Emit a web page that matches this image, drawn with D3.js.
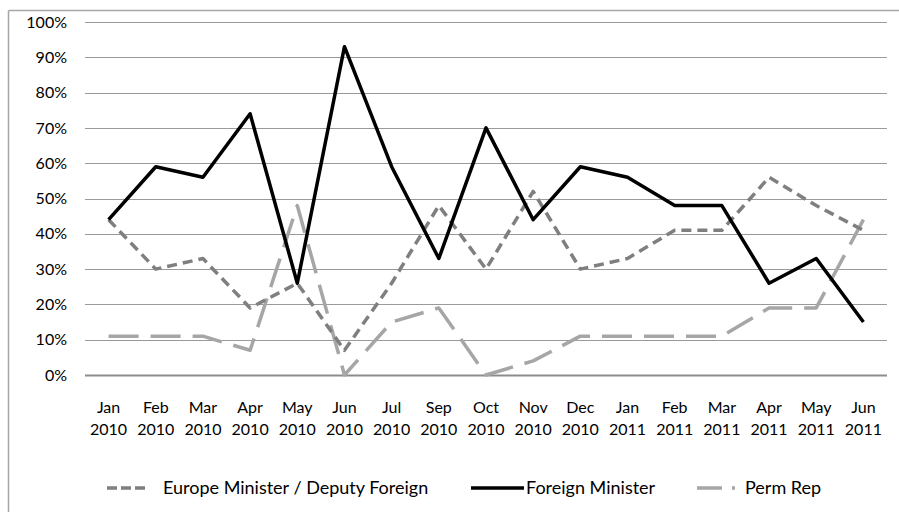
<!DOCTYPE html>
<html>
<head>
<meta charset="utf-8">
<script src="https://cdn.jsdelivr.net/npm/d3@7"></script>
<style>
  body { margin: 0; background: #fff; }
  text { font-family: Lato, "Open Sans", sans-serif; fill: #000; }
</style>
</head>
<body>
<div id="chart"></div>
<script>
// data
const months = ['Jan', 'Feb', 'Mar', 'Apr', 'May', 'Jun', 'Jul', 'Sep', 'Oct', 'Nov', 'Dec',
                'Jan', 'Feb', 'Mar', 'Apr', 'May', 'Jun'];
const years = ['2010', '2010', '2010', '2010', '2010', '2010', '2010', '2010', '2010', '2010', '2010',
               '2011', '2011', '2011', '2011', '2011', '2011'];
const europeMinister = [44, 30, 33, 19, 26, 7, 26, 48, 30, 52, 30, 33, 41, 41, 56, 48, 41];
const foreignMinister = [44, 59, 56, 74, 26, 93, 59, 33, 70, 44, 59, 56, 48, 48, 26, 33, 15];
const permRep = [11, 11, 11, 7, 48, 0, 15, 19, 0, 4, 11, 11, 11, 11, 19, 19, 44];
const yTicks = [0, 10, 20, 30, 40, 50, 60, 70, 80, 90, 100];

const W = 899, H = 512;
const margin = { top: 22, left: 85, right: 12, bottom: 137 };
const innerW = W - margin.left - margin.right,
      innerH = H - margin.top - margin.bottom;

const svg = d3.select('#chart')
  .append('svg')
  .attr('width', W)
  .attr('height', H);

// outer frame (only top and left edges are visible)
svg.append('line').attr('x1', 8.5).attr('x2', W).attr('y1', 10.5).attr('y2', 10.5)
  .attr('stroke', '#a6a6a6').attr('stroke-width', 1.5);
svg.append('line').attr('x1', 8.5).attr('x2', 8.5).attr('y1', 10.5).attr('y2', H)
  .attr('stroke', '#a6a6a6').attr('stroke-width', 1.5);

const g = svg.append('g')
  .attr('transform', `translate(${margin.left},${margin.top})`);

const keys = months.map((m, i) => i);
const x = d3.scaleBand().domain(keys).range([0, innerW]);
const y = d3.scaleLinear().domain([0, 100]).range([innerH, 0]);

// gridlines
g.append('g')
  .selectAll('line')
  .data(yTicks)
  .join('line')
  .attr('x1', 0)
  .attr('x2', innerW)
  .attr('y1', d => Math.round(y(d)) + 0.5)
  .attr('y2', d => Math.round(y(d)) + 0.5)
  .attr('stroke', d => d === 0 ? '#8c8c8c' : '#9a9a9a')
  .attr('stroke-width', d => d === 0 ? 2 : 1);

// y axis labels
const yAxis = g.append('g')
  .call(d3.axisLeft(y).tickValues(yTicks).tickFormat(d => d + '%').tickSize(0).tickPadding(18));
yAxis.select('.domain').remove();
yAxis.selectAll('text')
  .style('font-family', 'Lato, "Open Sans", sans-serif')
  .style('font-size', '16px')
  .attr('fill', '#000');

// x axis labels (two lines)
const xLab = g.append('g')
  .selectAll('text')
  .data(keys)
  .join('text')
  .attr('text-anchor', 'middle')
  .attr('x', d => x(d) + x.bandwidth() / 2)
  .attr('y', innerH + 38)
  .style('font-size', '16px');
xLab.append('tspan').attr('x', d => x(d) + x.bandwidth() / 2).text(d => months[d]);
xLab.append('tspan').attr('x', d => x(d) + x.bandwidth() / 2).attr('dy', 22).text(d => years[d]);

const series = [
  { name: 'Europe Minister / Deputy Foreign', values: europeMinister, color: '#7f7f7f', dash: '10,6' },
  { name: 'Foreign Minister', values: foreignMinister, color: '#000000', dash: null },
  { name: 'Perm Rep', values: permRep, color: '#a6a6a6', dash: '30,12' },
];

const line = d3.line()
  .x((d, i) => x(i) + x.bandwidth() / 2)
  .y(d => y(d));

// draw Perm Rep first, then Europe, then Foreign on top
[series[2], series[0], series[1]].forEach(s => {
  g.append('path')
    .datum(s.values)
    .attr('fill', 'none')
    .attr('stroke', s.color)
    .attr('stroke-width', 3.5)
    .attr('stroke-linejoin', 'round')
    .attr('stroke-dasharray', s.dash)
    .attr('d', line);
});

// legend
const legend = svg.append('g').attr('transform', 'translate(0,488)');
const legItems = [
  { s: series[0], x0: 107, x1: 146, tx: 163, dash: '10,4' },
  { s: series[1], x0: 471, x1: 524, tx: 526, dash: null },
  { s: series[2], x0: 697, x1: 736, tx: 745, dash: '25,10,3,100' },
];
legItems.forEach(it => {
  legend.append('line')
    .attr('x1', it.x0).attr('x2', it.x1)
    .attr('y1', 0).attr('y2', 0)
    .attr('stroke', it.s.color)
    .attr('stroke-width', 3.5)
    .attr('stroke-dasharray', it.dash);
  legend.append('text')
    .attr('x', it.tx)
    .attr('y', 6)
    .style('font-size', '18px')
    .text(it.s.name);
});
</script>
</body>
</html>
